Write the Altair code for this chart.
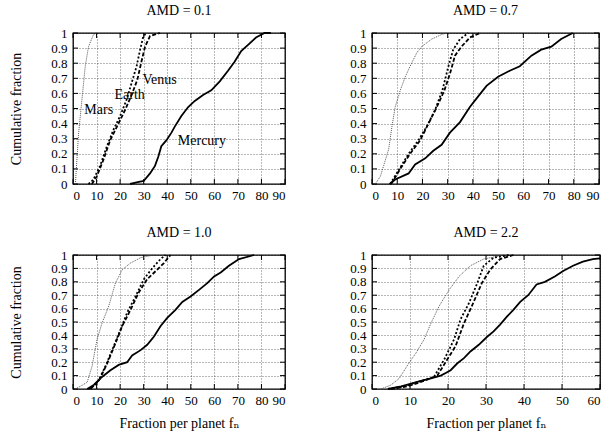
import altair as alt
import pandas as pd

FONT = "Times New Roman, Liberation Serif, DejaVu Serif, serif"
FS = 14
LFS = 13

panel_titles = ["AMD = 0.1", "AMD = 0.7", "AMD = 1.0", "AMD = 2.2"]
x_max = [90, 90, 90, 60]
y_ticks = [0, 0.1, 0.2, 0.3, 0.4, 0.5, 0.6, 0.7, 0.8, 0.9, 1]
x_ticks_90 = [0, 10, 20, 30, 40, 50, 60, 70, 80, 90]
x_ticks_60 = [0, 10, 20, 30, 40, 50, 60]

# ---- AMD = 0.1 ----
amd01_mercury_x = [24.2, 27, 30, 32.7, 34.8, 36.2, 37.5, 39.7, 41.8, 43.2, 46, 48.9, 51.7, 55.2, 58.7, 62.3, 65.8, 68.6, 71.4, 74.9, 77.7, 81.3, 84]
amd01_mercury_y = [0, 0.01, 0.02, 0.07, 0.12, 0.18, 0.25, 0.29, 0.34, 0.38, 0.45, 0.51, 0.55, 0.59, 0.62, 0.68, 0.75, 0.81, 0.88, 0.93, 0.97, 1.0, 1.0]
amd01_venus_x = [8, 10.1, 12.9, 15.8, 19.3, 22.1, 24.9, 27.3, 29.2, 30.6, 32.7, 36.9]
amd01_venus_y = [0, 0.05, 0.16, 0.29, 0.40, 0.49, 0.59, 0.69, 0.82, 0.91, 0.98, 1]
amd01_earth_x = [6.6, 8.7, 11.5, 14.4, 17.2, 20, 22.8, 24.9, 27, 28.5, 29.9, 31.3]
amd01_earth_y = [0, 0.03, 0.12, 0.25, 0.36, 0.45, 0.56, 0.67, 0.78, 0.89, 0.98, 1]
amd01_mars_x = [1, 2.4, 3.8, 5.2, 6.6, 8.7, 9.9]
amd01_mars_y = [0, 0.34, 0.56, 0.78, 0.91, 0.99, 1]

# ---- AMD = 0.7 ----
amd07_mercury_x = [7, 9.2, 14.5, 17.1, 21.1, 24.3, 27.6, 30.9, 34.9, 38.8, 42.1, 45.4, 50, 54.6, 58.6, 63.2, 67.1, 71.1, 75, 79.6]
amd07_mercury_y = [0, 0.03, 0.07, 0.13, 0.17, 0.22, 0.26, 0.34, 0.41, 0.51, 0.58, 0.65, 0.71, 0.75, 0.78, 0.85, 0.89, 0.91, 0.96, 1.0]
amd07_venus_x = [7.6, 11.2, 15.1, 19.1, 22.4, 25.7, 28.7, 30.9, 32.9, 35.5, 38.8, 42.8]
amd07_venus_y = [0, 0.1, 0.2, 0.29, 0.4, 0.51, 0.62, 0.73, 0.85, 0.91, 0.97, 1]
amd07_earth_x = [7.2, 10.5, 14.5, 18.4, 21.7, 25, 27.9, 30.3, 32.2, 34.9, 38.2]
amd07_earth_y = [0, 0.09, 0.2, 0.29, 0.38, 0.49, 0.62, 0.78, 0.89, 0.96, 1]
amd07_mars_x = [1.3, 3.3, 4.6, 6.6, 7.9, 9.2, 11.2, 13.2, 15.1, 17.8, 19.7, 23.7, 27.6, 29.6]
amd07_mars_y = [0, 0.05, 0.12, 0.23, 0.38, 0.51, 0.62, 0.71, 0.78, 0.87, 0.91, 0.96, 0.99, 1]

# ---- AMD = 1.0 ----
amd10_mercury_x = [6, 8.8, 12.3, 15.9, 19.4, 23, 25.1, 28.7, 31.5, 34.3, 37.2, 40, 43.5, 46.4, 49.9, 53.5, 57, 59.9, 62.7, 66.2, 70.5, 76.9]
amd10_mercury_y = [0, 0.03, 0.09, 0.14, 0.18, 0.2, 0.25, 0.29, 0.33, 0.39, 0.47, 0.53, 0.59, 0.65, 0.69, 0.74, 0.79, 0.84, 0.87, 0.92, 0.97, 1]
amd10_venus_x = [7.4, 10.9, 14.5, 18, 20.9, 24.4, 27.9, 31.5, 35.7, 38.6, 41.4]
amd10_venus_y = [0, 0.06, 0.19, 0.34, 0.47, 0.59, 0.72, 0.82, 0.89, 0.94, 1]
amd10_earth_x = [6.7, 10.2, 13.8, 17.3, 20.1, 23, 26.5, 30.1, 33.6, 37.2, 39.3]
amd10_earth_y = [0, 0.04, 0.17, 0.32, 0.44, 0.57, 0.69, 0.82, 0.9, 0.97, 1]
amd10_mars_x = [1, 3.1, 6, 8.1, 10.2, 12.3, 15.2, 18, 20.9, 24.4, 28.7, 34.3]
amd10_mars_y = [0, 0.02, 0.05, 0.17, 0.37, 0.49, 0.62, 0.79, 0.89, 0.94, 0.98, 1]

# ---- AMD = 2.2 ----
amd22_mercury_x = [4.2, 7.7, 10.3, 12.9, 15.5, 18.1, 19.4, 20.7, 22.4, 24.2, 25.9, 28.1, 30.3, 32, 33.7, 35.5, 37.2, 39, 41.1, 43.3, 45.5, 48.1, 50.3, 52.9, 55.5, 58.1, 60]
amd22_mercury_y = [0, 0.02, 0.04, 0.06, 0.08, 0.1, 0.12, 0.14, 0.19, 0.23, 0.28, 0.33, 0.39, 0.43, 0.48, 0.54, 0.59, 0.65, 0.7, 0.78, 0.8, 0.84, 0.88, 0.92, 0.95, 0.97, 0.975]
amd22_venus_x = [5, 9.4, 13.7, 17.2, 19.8, 22, 24.2, 26.3, 28.9, 31.1, 33.7, 37.2]
amd22_venus_y = [0, 0.02, 0.06, 0.1, 0.22, 0.32, 0.49, 0.62, 0.79, 0.89, 0.97, 1]
amd22_earth_x = [4.2, 8.5, 12.9, 16.3, 19, 21.6, 23.3, 25.5, 27.7, 29.4, 32, 36.3]
amd22_earth_y = [0, 0.02, 0.06, 0.09, 0.22, 0.37, 0.52, 0.64, 0.79, 0.92, 0.98, 1]
amd22_mars_x = [2.4, 5, 7.2, 9.4, 11.6, 13.7, 15.5, 17.7, 20.3, 22.9, 25.9, 29.4, 32.9, 34.6]
amd22_mars_y = [0, 0.03, 0.08, 0.18, 0.27, 0.37, 0.49, 0.62, 0.74, 0.84, 0.92, 0.97, 0.99, 1]

# labels drawn in the first panel
label_names = ["Venus", "Earth", "Mars", "Mercury"]
label_x = [29.5, 17.6, 4.8, 44.5]
label_y = [0.69, 0.59, 0.49, 0.285]

panels_data = [
    {"Mercury": (amd01_mercury_x, amd01_mercury_y), "Venus": (amd01_venus_x, amd01_venus_y),
     "Earth": (amd01_earth_x, amd01_earth_y), "Mars": (amd01_mars_x, amd01_mars_y)},
    {"Mercury": (amd07_mercury_x, amd07_mercury_y), "Venus": (amd07_venus_x, amd07_venus_y),
     "Earth": (amd07_earth_x, amd07_earth_y), "Mars": (amd07_mars_x, amd07_mars_y)},
    {"Mercury": (amd10_mercury_x, amd10_mercury_y), "Venus": (amd10_venus_x, amd10_venus_y),
     "Earth": (amd10_earth_x, amd10_earth_y), "Mars": (amd10_mars_x, amd10_mars_y)},
    {"Mercury": (amd22_mercury_x, amd22_mercury_y), "Venus": (amd22_venus_x, amd22_venus_y),
     "Earth": (amd22_earth_x, amd22_earth_y), "Mars": (amd22_mars_x, amd22_mars_y)},
]

styles = {
    "Mercury": dict(strokeWidth=1.8, color="black"),
    "Venus": dict(strokeWidth=1.8, color="black", strokeDash=[4, 2]),
    "Earth": dict(strokeWidth=1.8, color="black", strokeDash=[2, 2]),
    "Mars": dict(strokeWidth=0.9, color="#444444", strokeDash=[1, 1]),
}

TICK_PX = 5


def make_panel(idx, w, h, left, bottom):
    xmax = x_max[idx]
    xt = x_ticks_90 if xmax == 90 else x_ticks_60
    xscale = alt.Scale(domain=[0, xmax], nice=False, zero=False)
    yscale = alt.Scale(domain=[0, 1], nice=False, zero=False)
    xaxis = alt.Axis(values=xt, title="Fraction per planet f\u2099" if bottom else None,
                     grid=True, labelPadding=5, titlePadding=9, labelOverlap=False,
                     labelFont=FONT, titleFont=FONT)
    yaxis = alt.Axis(values=y_ticks, format="~g", title="Cumulative fraction" if left else None,
                     grid=True, labelPadding=6, titlePadding=27, labelOverlap=False,
                     labelFont=FONT, titleFont=FONT)
    ex = alt.X("x:Q", scale=xscale, axis=xaxis)
    ey = alt.Y("y:Q", scale=yscale, axis=yaxis)

    # inner tick marks (gnuplot style), lengths from the scales
    tly = TICK_PX / h
    tlx = TICK_PX * xmax / w
    trows = []
    for v in xt:
        trows.append(dict(x=v, x2=v, y=0, y2=tly))
        trows.append(dict(x=v, x2=v, y=1, y2=1 - tly))
    for v in y_ticks:
        trows.append(dict(x=0, x2=tlx, y=v, y2=v))
        trows.append(dict(x=xmax, x2=xmax - tlx, y=v, y2=v))
    ticks = alt.Chart(pd.DataFrame(trows)).mark_rule(color="black", strokeWidth=1).encode(
        x=ex, x2="x2:Q", y=ey, y2="y2:Q")

    layers = [ticks]
    for planet in ["Mars", "Earth", "Venus", "Mercury"]:
        xs, ys = panels_data[idx][planet]
        df = pd.DataFrame({"x": xs, "y": ys, "o": list(range(len(xs)))})
        layers.append(alt.Chart(df).mark_line(**styles[planet]).encode(
            x=ex, y=ey, order="o:Q"))
    if idx == 0:
        ldf = pd.DataFrame({"x": label_x, "y": label_y, "t": label_names})
        layers.append(alt.Chart(ldf).mark_text(
            align="left", baseline="middle", font=FONT, fontSize=FS, color="black"
        ).encode(x=ex, y=ey, text="t:N"))
    return alt.layer(*layers).properties(
        width=w, height=h,
        title=alt.TitleParams(panel_titles[idx], font=FONT, fontSize=FS, fontWeight="normal",
                              color="black", offset=9),
    )


p1 = make_panel(0, 212, 151, True, False)
p2 = make_panel(1, 227, 151, False, False)
p3 = make_panel(2, 212, 134, True, True)
p4 = make_panel(3, 228, 134, False, True)

row1 = alt.hconcat(p1, p2, spacing=62)
row2 = alt.hconcat(p3, p4, spacing=62)

chart = alt.vconcat(row1, row2, spacing=22).properties(
    padding={"left": 9, "top": 3, "right": 0, "bottom": 0},
    background="white",
).configure_axis(
    labelFont=FONT, labelFontSize=LFS, labelColor="black",
    titleFont=FONT, titleFontSize=FS, titleFontWeight="normal", titleColor="black",
    domain=False, ticks=False,
    gridColor="#000000", gridDash=[1, 2], gridWidth=0.7, gridOpacity=0.8,
).configure_view(
    stroke="black", strokeWidth=1.3,
).configure_title(font=FONT).configure_text(font=FONT)

chart.save("out.html", embed_options={"renderer": "svg", "actions": False})
